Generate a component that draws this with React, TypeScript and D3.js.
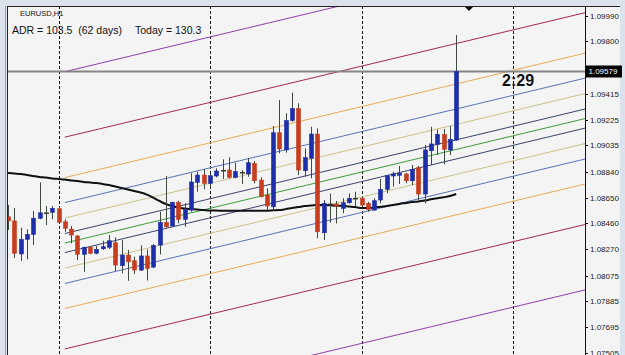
import React from 'react';
import * as d3 from 'd3';

// ---- Data ----
const opens = [1.08509,1.08478,1.08235,1.08342,1.08379,1.08498,1.08535,1.08541,1.08568,1.08472,1.08418,1.08367,1.08232,1.08284,1.08240,1.08273,1.08284,1.08317,1.08148,1.08227,1.08185,1.08116,1.08220,1.08138,1.08300,1.08468,1.08441,1.08615,1.08490,1.08558,1.08762,1.08816,1.08755,1.08809,1.08848,1.08853,1.08799,1.08833,1.08824,1.08902,1.08779,1.08669,1.08582,1.09128,1.09001,1.09217,1.09305,1.08848,1.08940,1.09118,1.08391,1.08600,1.08603,1.08571,1.08612,1.08642,1.08645,1.08608,1.08558,1.08632,1.08711,1.08809,1.08814,1.08824,1.08774,1.08870,1.08676,1.08995,1.09043,1.09116,1.09001,1.09074];
const highs = [1.08595,1.08573,1.08428,1.08416,1.08551,1.08762,1.08588,1.08588,1.08582,1.08490,1.08441,1.08374,1.08288,1.08293,1.08293,1.08332,1.08374,1.08357,1.08337,1.08264,1.08214,1.08298,1.08268,1.08308,1.08546,1.08809,1.08619,1.08625,1.08608,1.08829,1.08841,1.08861,1.08829,1.08866,1.08932,1.08947,1.08907,1.08853,1.08940,1.08919,1.08799,1.08718,1.09177,1.09369,1.09271,1.09423,1.09345,1.09013,1.09172,1.09160,1.08632,1.08680,1.08625,1.08645,1.08681,1.08693,1.08656,1.08619,1.08645,1.08787,1.08816,1.08841,1.08883,1.08833,1.08890,1.08883,1.09038,1.09172,1.09153,1.09155,1.09177,1.09848];
const lows = [1.08411,1.08205,1.08183,1.08195,1.08300,1.08490,1.08448,1.08490,1.08460,1.08398,1.08313,1.08190,1.08103,1.08232,1.08232,1.08264,1.08271,1.08109,1.08092,1.08037,1.08087,1.08109,1.08039,1.08130,1.08231,1.08429,1.08435,1.08460,1.08435,1.08546,1.08693,1.08711,1.08711,1.08799,1.08787,1.08792,1.08792,1.08750,1.08804,1.08755,1.08652,1.08558,1.08553,1.08976,1.08981,1.09209,1.08816,1.08804,1.08792,1.08350,1.08337,1.08465,1.08460,1.08534,1.08605,1.08582,1.08582,1.08546,1.08553,1.08608,1.08681,1.08730,1.08750,1.08755,1.08742,1.08632,1.08608,1.08890,1.08964,1.08895,1.08964,1.09069];
const closes = [1.08478,1.08240,1.08342,1.08379,1.08498,1.08538,1.08535,1.08571,1.08468,1.08424,1.08374,1.08232,1.08284,1.08240,1.08269,1.08288,1.08332,1.08153,1.08227,1.08177,1.08116,1.08220,1.08127,1.08298,1.08468,1.08435,1.08615,1.08490,1.08563,1.08765,1.08816,1.08755,1.08811,1.08846,1.08848,1.08799,1.08841,1.08833,1.08907,1.08774,1.08656,1.08588,1.09128,1.09008,1.09217,1.09305,1.08853,1.08944,1.09118,1.08398,1.08608,1.08600,1.08588,1.08612,1.08645,1.08642,1.08595,1.08563,1.08627,1.08711,1.08811,1.08824,1.08829,1.08774,1.08858,1.08676,1.09001,1.09045,1.09116,1.09006,1.09079,1.09579];
const maValues = [1.08831,1.08827,1.08824,1.08816,1.08809,1.08802,1.08798,1.08791,1.08787,1.08783,1.08775,1.08772,1.08765,1.08761,1.08757,1.08750,1.08742,1.08731,1.08720,1.08709,1.08698,1.08687,1.08672,1.08650,1.08625,1.08603,1.08588,1.08577,1.08569,1.08565,1.08562,1.08558,1.08554,1.08554,1.08553,1.08553,1.08553,1.08553,1.08553,1.08553,1.08553,1.08553,1.08556,1.08558,1.08565,1.08573,1.08580,1.08588,1.08591,1.08595,1.08595,1.08593,1.08590,1.08588,1.08584,1.08580,1.08573,1.08573,1.08577,1.08583,1.08588,1.08595,1.08603,1.08610,1.08617,1.08621,1.08628,1.08637,1.08645,1.08652,1.08661,1.08676];
const priceTicks = [1.09990,1.09800,1.09605,1.09415,1.09225,1.09035,1.08840,1.08650,1.08460,1.08270,1.08075,1.07885,1.07695,1.07505];
const separatorBars = [8, 32, 56, 80];
const fibLevels = [4.236, 2.618, 1.618, 1, 0.618, 0.236, 0, -0.236, -0.618, -1, -1.618, -2.618, -4.236];
const fibColors = ['#8e3fae','#a4284c','#e9ab55','#5872b4','#cbc38c','#3c416c','#3d9b3d','#3c416c','#cbc38c','#5872b4','#e9ab55','#a4284c','#8e3fae'];
const channelStartBar = 9;
const channelEndBar = 91.5;
const channelStartPrice = 1.08315;
const channelEndPrice = 1.09233;
const channelUnit = 0.00298;
const currentPrice = 1.09579;
const symbolLabel = 'EURUSD,H1';
const adrLabel = 'ADR = 103.5  (62 days)';
const todayLabel = 'Today = 130.3';
const timerLabel = '2:29';

const FONT = "'Liberation Sans', Arial, sans-serif";

export default function App() {
  const W = 625, H = 355;
  const plot = { left: 7, top: 6, right: 585, bottom: 356 };
  const x = d3.scaleLinear().domain([8, 32]).range([58.5, 210]);
  const y = d3.scaleLinear().domain([1.07505, 1.0999]).range([353, 15.7]);

  const maLine = d3.line<number>()
    .x((_, i) => x(i))
    .y((d) => y(d))
    .curve(d3.curveMonotoneX);

  const blue = '#1d2ea8';
  const red = '#c63d1f';
  const wick = '#3f4a3f';

  return (
    <div style={{ position: 'fixed', left: 0, top: 0, width: W, height: H, overflow: 'hidden' }}>
      <svg width={W} height={H} style={{ display: 'block' }}>
        <defs>
          <clipPath id="plotClip">
            <rect x={plot.left + 1} y={plot.top + 1} width={plot.right - plot.left - 1} height={plot.bottom - plot.top} />
          </clipPath>
        </defs>
        {/* window chrome */}
        <rect x={0} y={0} width={W} height={H} fill="#dbe2ec" />
        <rect x={plot.left} y={plot.top} width={620 - plot.left} height={H - plot.top} fill="#f4f4f4" />
        <line x1={plot.left - 1.5} y1={plot.top} x2={plot.left - 1.5} y2={H} stroke="#9aa0a8" strokeWidth={1} />
        <line x1={plot.left + 0.5} y1={plot.top} x2={plot.left + 0.5} y2={H} stroke="#222" strokeWidth={1} />
        <line x1={plot.left} y1={plot.top + 0.5} x2={620} y2={plot.top + 0.5} stroke="#222" strokeWidth={1} />

        <g clipPath="url(#plotClip)">
          {/* day separators */}
          {separatorBars.map((b) => (
            <line key={b} x1={Math.round(x(b)) + 0.5} x2={Math.round(x(b)) + 0.5} y1={plot.top} y2={plot.bottom}
              stroke="#111" strokeWidth={1} strokeDasharray="3,2" />
          ))}
          {/* fibonacci channel */}
          {fibLevels.map((lv, i) => (
            <line key={lv}
              x1={x(channelStartBar)} y1={y(channelStartPrice + lv * channelUnit)}
              x2={x(channelEndBar)} y2={y(channelEndPrice + lv * channelUnit)}
              stroke={fibColors[i]} strokeWidth={1} />
          ))}
          {/* current price line */}
          <line x1={plot.left} x2={plot.right} y1={y(currentPrice)} y2={y(currentPrice)} stroke="#858585" strokeWidth={2} />
          {/* moving average */}
          <path d={maLine(maValues) || ''} fill="none" stroke="#111" strokeWidth={2} />
          {/* candles */}
          {opens.map((o, i) => {
            const c = closes[i];
            const cx = Math.round(x(i)) + 0.5;
            const yTop = y(Math.max(o, c));
            const yBot = y(Math.min(o, c));
            const doji = Math.abs(o - c) < 0.00002;
            const col = c >= o ? blue : red;
            return (
              <g key={i}>
                <line x1={cx} x2={cx} y1={y(highs[i])} y2={y(lows[i])} stroke={wick} strokeWidth={1} />
                {doji ? (
                  <line x1={cx - 2.5} x2={cx + 2.5} y1={yTop} y2={yTop} stroke="#3a3a20" strokeWidth={1.5} />
                ) : (
                  <rect x={cx - 2} y={yTop} width={4} height={Math.max(1.5, yBot - yTop)} fill={col} stroke={col} strokeWidth={0.6} />
                )}
              </g>
            );
          })}
        </g>

        {/* right axis */}
        <line x1={plot.right + 0.5} x2={plot.right + 0.5} y1={plot.top} y2={H} stroke="#111" strokeWidth={1} />
        {priceTicks.map((v) => (
          <g key={v}>
            <line x1={plot.right} x2={plot.right + 3} y1={Math.round(y(v)) + 0.5} y2={Math.round(y(v)) + 0.5} stroke="#111" />
            <text x={590} y={y(v) + 3} fontFamily={FONT} fontSize={8} fill="#222">{v.toFixed(5)}</text>
          </g>
        ))}
        <rect x={586} y={y(currentPrice) - 6} width={36} height={12} fill="#000" />
        <text x={588.5} y={y(currentPrice) + 3} fontFamily={FONT} fontSize={8} fill="#fff">{currentPrice.toFixed(5)}</text>

        {/* marker triangle */}
        <path d="M465,7 L473,7 L469,11 Z" fill="#111" />

        {/* labels */}
        <text x={20} y={16} fontFamily={FONT} fontSize={7.5} fill="#111">{symbolLabel}</text>
        <text x={12} y={34} fontFamily={FONT} fontSize={10.5} fill="#111" style={{ whiteSpace: 'pre' }}>{adrLabel}</text>
        <text x={135} y={34} fontFamily={FONT} fontSize={10.5} fill="#111">{todayLabel}</text>
        <text x={502} y={86} fontFamily={FONT} fontSize={16} fontWeight="bold" fill="#111">{timerLabel}</text>
      </svg>
    </div>
  );
}
